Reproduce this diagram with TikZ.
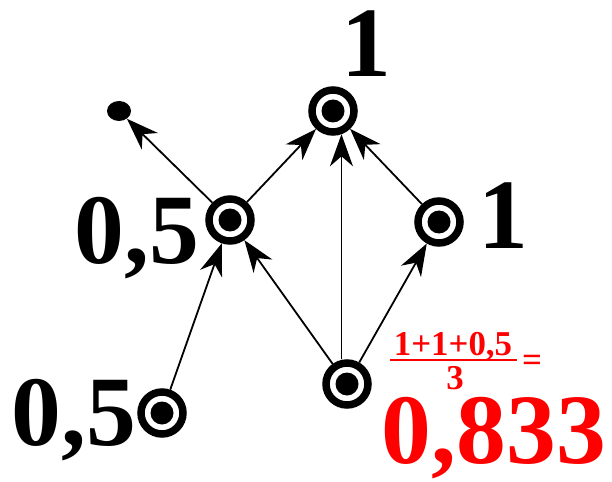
\documentclass[tikz,border=0pt]{standalone}
\usepackage{fontspec}
\setmainfont{Liberation Serif}
\usetikzlibrary{arrows.meta,positioning,calc,shapes.geometric}
\definecolor{avg}{HTML}{FF0000}
\tikzset{
  ring/.style={circle, draw, line width=7.5bp, minimum size=42bp, inner sep=0pt,
    path picture={\fill (path picture bounding box.center) circle (11.5bp);}},
  leaf/.style={ellipse, fill, minimum width=24bp, minimum height=20bp, inner sep=0pt},
  edge/.style={->, line width=1.8bp},
  val/.style={font=\fontsize{100}{100}\selectfont\bfseries, inner sep=0pt, anchor=base},
  fracpart/.style={font=\fontsize{35}{35}\selectfont\bfseries, text=avg, inner sep=0pt, anchor=base}
}

\begin{document}
\begin{tikzpicture}[x=1bp, y=-1bp, >={Stealth[length=32bp,width=23bp,inset=10bp]}]
\useasboundingbox (0,0) rectangle (612,482);
% vertices
\node[ring] (top) at (333,111) {};
\node[ring] (mid) at (230,220) {};
\node[ring] (right) at (439,222) {};
\node[ring] (hub) at (347,384) {};
\node[ring] (low) at (162,413) {};
\node[leaf] (end) at (119,111) {};
% edges
\draw[edge] (mid) -- (end);
\draw[edge] (mid) -- (top);
\draw[edge] (right) -- (top);
\draw[edge] (hub.north -| top.-70) -- (top.-70);
\draw[edge] (hub) -- (mid);
\draw[edge] (hub) -- (right);
\draw[edge] (low) -- (mid);
% values
\node[val] (vtop) at (366,77) {1};
\node[val] (vmid) at (137,263) {0,5};
\node[val] (vright) at (503,248) {1};
\node[val] (vlow) at (74,445) {0,5};
% mean of the hub
\node[fracpart] (num) at (453,355) {1+1+0,5};
\draw[avg, line width=2bp] (390,360) -- (517,360);
\node[fracpart] (den) at (455,389) {3};
\node[fracpart] (eq) at (532,371) {=};
\node[val, text=avg] (vhub) at (494,463) {0,833};
\end{tikzpicture}
\end{document}
